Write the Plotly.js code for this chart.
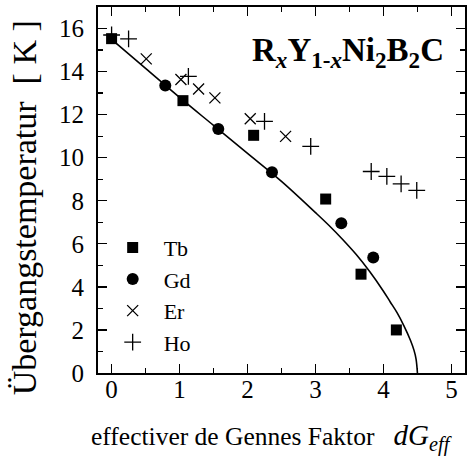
<!DOCTYPE html>
<html>
<head>
<meta charset="utf-8">
<script src="https://cdn.plot.ly/plotly-3.0.1.min.js"></script>
<style>html,body{margin:0;padding:0;background:#fff}#chart{width:472px;height:462px}</style>
</head>
<body>
<div id="chart"></div>
<script>
// --- data ---
const tbX = [0, 1.05, 2.09, 3.15, 3.67, 4.19];
const tbY = [15.53, 12.65, 11.04, 8.08, 4.59, 2.0];
const gdX = [0.79, 1.57, 2.36, 3.38, 3.85];
const gdY = [13.35, 11.33, 9.32, 6.96, 5.36];
const erX = [0.51, 1.02, 1.28, 1.52, 2.04, 2.56];
const erY = [14.59, 13.63, 13.19, 12.78, 11.81, 10.99];
const hoX = [0, 0.25, 1.13, 2.25, 2.93, 3.82, 4.05, 4.26, 4.49];
const hoY = [15.7, 15.52, 13.78, 11.69, 10.53, 9.36, 9.13, 8.78, 8.48];
const curveX = [0, 0.5, 1.0, 1.5, 2.0, 2.5, 3.0, 3.2, 3.4, 3.6, 3.8, 4.0, 4.1, 4.2, 4.3, 4.4, 4.45, 4.48, 4.5];
const curveY = [15.5, 14.15, 12.8, 11.5, 10.2, 8.9, 7.45, 6.85, 6.2, 5.5, 4.7, 3.8, 3.3, 2.8, 2.2, 1.5, 1.05, 0.65, 0];
const legendNames = ['Tb', 'Gd', 'Er', 'Ho'];
const xTicks = [0, 1, 2, 3, 4, 5];
const yTicks = [0, 2, 4, 6, 8, 10, 12, 14, 16];

const FONT = 'Liberation Serif';

const traces = [
  {x: curveX, y: curveY, mode: 'lines', line: {color: '#000', width: 1.6, shape: 'spline', smoothing: 1}, showlegend: false, hoverinfo: 'skip'},
  {x: tbX, y: tbY, mode: 'markers', name: legendNames[0], marker: {symbol: 'square', size: 11, color: '#000'}},
  {x: gdX, y: gdY, mode: 'markers', name: legendNames[1], marker: {symbol: 'circle', size: 12, color: '#000'}},
  {x: erX, y: erY, mode: 'markers', name: legendNames[2], marker: {symbol: 'x-thin-open', size: 11, color: '#000', line: {color: '#000', width: 1.3}}},
  {x: hoX, y: hoY, mode: 'markers', name: legendNames[3], marker: {symbol: 'cross-thin-open', size: 12, color: '#000', line: {color: '#000', width: 1.3}}}
];

const axisCommon = {
  showline: true, linecolor: '#000', linewidth: 2, mirror: 'allticks',
  ticks: 'inside', ticklen: 9, tickwidth: 1.3, tickcolor: '#000',
  showgrid: false, zeroline: false,
  tickfont: {family: FONT, size: 25, color: '#000'}
};

const layout = {
  width: 472, height: 462,
  margin: {l: 98, r: 7, t: 7, b: 89},
  paper_bgcolor: '#fff', plot_bgcolor: '#fff',
  font: {family: FONT, color: '#000'},
  xaxis: Object.assign({}, axisCommon, {
    range: [-0.2, 5.2], tickvals: xTicks, ticktext: xTicks.map(String),
    ticklabelstandoff: -7,
    minor: {dtick: 0.5, tick0: 0, ticks: 'inside', ticklen: 5, tickwidth: 1.3, tickcolor: '#000'}
  }),
  yaxis: Object.assign({}, axisCommon, {
    range: [0, 17], tickvals: yTicks, ticktext: yTicks.map(String),
    ticklabelstandoff: 7,
    minor: {dtick: 1, tick0: 0, ticks: 'inside', ticklen: 5, tickwidth: 1.3, tickcolor: '#000'}
  }),
  showlegend: true,
  legend: {
    x: 0.01, y: 0.40, xanchor: 'left', yanchor: 'top',
    font: {family: FONT, size: 22, color: '#000'},
    bgcolor: 'rgba(0,0,0,0)', borderwidth: 0,
    itemwidth: 52, traceorder: 'normal'
  },
  annotations: [
    {text: '<b>R<sub><i>x</i></sub>Y<sub>1-<i>x</i></sub>Ni<sub>2</sub>B<sub>2</sub>C</b>', xref: 'paper', yref: 'paper',
     x: 0.947, y: 0.875, xanchor: 'right', yanchor: 'middle', showarrow: false,
     font: {family: FONT, size: 33, color: '#000'}},
    {text: 'effectiver de Gennes Faktor   <span style="font-size:29px"><i>dG<sub>eff</sub></i></span>', xref: 'paper', yref: 'paper',
     x: -0.025, y: -0.12, xanchor: 'left', yanchor: 'top', showarrow: false,
     font: {family: FONT, size: 25.5, color: '#000'}},
    {text: 'Übergangstemperatur  [ K ]', xref: 'paper', yref: 'paper', textangle: -90,
     x: -0.2016, y: 0.45, xanchor: 'center', yanchor: 'middle', showarrow: false,
     font: {family: FONT, size: 34, color: '#000'}}
  ]
};

Plotly.newPlot('chart', traces, layout, {displayModeBar: false, staticPlot: true});
</script>
</body>
</html>
